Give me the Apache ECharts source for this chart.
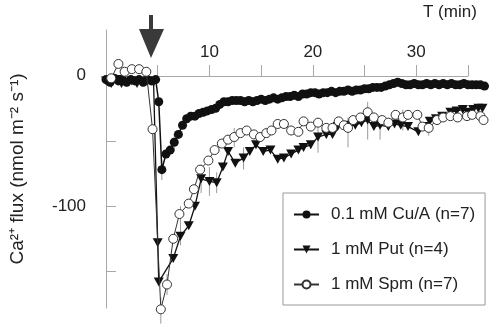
<!DOCTYPE html>
<html>
<head>
<meta charset="utf-8">
<script src="https://cdn.jsdelivr.net/npm/echarts@6/dist/echarts.min.js"></script>
<style>
  html, body { margin: 0; padding: 0; background: #fff; }
  #chart { width: 490px; height: 329px; }
</style>
</head>
<body>
<div id="chart"></div>
<script>
// time (min) and Ca2+ flux (nmol m-2 s-1)
const cuTime = [0, 0.4, 0.8, 1.2, 1.6, 2.0, 2.4, 2.8, 3.2, 3.6, 4.0, 4.4, 4.8, 5.1, 5.4, 5.8, 6.2, 6.6, 7.0, 7.4, 7.8, 8.2, 8.6, 9.0, 9.4, 9.8, 10.2, 10.6, 11.0, 11.4, 11.8, 12.2, 12.6, 13.0, 13.4, 13.8, 14.2, 14.6, 15.0, 15.4, 15.8, 16.2, 16.6, 17.0, 17.4, 17.8, 18.2, 18.6, 19.0, 19.4, 19.8, 20.2, 20.6, 21.0, 21.4, 21.8, 22.2, 22.6, 23.0, 23.4, 23.8, 24.2, 24.6, 25.0, 25.4, 25.8, 26.2, 26.6, 27.0, 27.4, 27.8, 28.2, 28.6, 29.0, 29.4, 29.8, 30.2, 30.6, 31.0, 31.4, 31.8, 32.2, 32.6, 33.0, 33.4, 33.8, 34.2, 34.6, 35.0, 35.4, 35.8, 36.2, 36.6]
const cuFlux = [-3, -5, -2, -4, -3, -5, -3, -4, -3, -5, -3, -4, -3, -20, -72, -60, -57, -51, -45, -38, -33, -31, -31, -29, -28, -27, -26, -25, -22, -20, -20, -19, -19, -19, -20, -19, -20, -19, -18, -19, -18, -17, -18, -17, -16, -16, -15, -16, -14, -14, -13, -13, -14, -13, -13, -12, -13, -12, -12, -11, -12, -11, -11, -10, -10, -9, -9, -9, -8, -7, -6, -5, -6, -7, -7, -6, -7, -7, -6, -7, -6, -7, -6, -7, -6, -7, -7, -6, -7, -7, -7, -7, -8]

const putTime = [0, 0.5, 1.0, 1.5, 2.0, 2.5, 3.0, 3.5, 4.0, 4.6, 5.0, 5.1, 6.5, 7.2, 8.0, 8.6, 9.2, 10.0, 10.7, 11.3, 11.8, 12.5, 13.3, 13.9, 14.5, 15.2, 15.9, 16.6, 17.2, 17.9, 18.6, 19.1, 19.8, 20.5, 21.3, 21.9, 22.4, 23.4, 24.1, 24.7, 25.3, 25.9, 26.5, 27.3, 27.9, 28.5, 29.2, 30.2, 30.8, 31.3, 31.9, 32.5, 33.3, 33.9, 34.5, 35.0, 35.5, 36.0, 36.4]
const putFlux = [-4, -6, -3, -6, -5, -4, -6, -5, -4, -5, -128, -158, -140, -123, -115, -100, -79, -81, -82, -70, -58, -67, -63, -58, -53, -58, -57, -64, -63, -60, -57, -55, -53, -47, -45, -45, -39, -38, -38, -36, -34, -39, -38, -39, -37, -38, -39, -43, -39, -35, -33, -31, -28, -27, -26, -28, -26, -25, -25]

const spmTime = [0.5, 1.2, 1.8, 2.5, 3.2, 3.9, 4.5, 5.3, 5.9, 6.5, 7.1, 8.0, 8.5, 9.1, 9.9, 10.5, 11.2, 11.8, 12.4, 13.0, 13.6, 14.3, 14.9, 15.5, 16.0, 16.6, 17.2, 17.9, 18.6, 19.1, 19.8, 20.5, 21.3, 21.9, 22.5, 23.0, 23.4, 23.9, 24.6, 25.3, 25.9, 26.7, 27.3, 28.0, 28.7, 29.2, 30.1, 30.6, 31.2, 32.0, 32.6, 33.3, 34.0, 34.9, 35.4, 36.2, 36.5]
const spmFlux = [-2, 9, 3, 5, 5, 3, -41, -179, -160, -125, -106, -98, -87, -72, -65, -57, -52, -49, -47, -44, -42, -45, -47, -44, -42, -37, -37, -42, -43, -35, -39, -36, -40, -40, -35, -38, -40, -34, -32, -28, -32, -34, -36, -30, -32, -30, -30, -39, -40, -34, -32, -31, -32, -31, -30, -31, -34]

// error bars: time, low, high
const errTime = [5.3, 5.9, 5.4, 6.6, 7.2, 9.2, 10.0, 10.7, 12.4, 13.3, 20.5, 23.4, 25.3, 26.5, 28.7, 31.2]
const errLow = [-190, -168, -80, -58, -130, -90, -92, -90, -55, -72, -59, -55, -49, -49, -42, -46]
const errHigh = [-170, -152, -65, -44, -100, -68, -70, -74, -40, -55, -34, -32, -20, -39, -26, -33]

const xTicks = [5, 10, 15, 20, 25, 30, 35]
const xLabels = [10, 20, 30]
const yTicks = [-50, -100, -150]
const yLabels = [0, -100]

const zip = (a, b) => a.map((v, i) => [v, b[i]])
const font = 'Liberation Sans, Arial, sans-serif'
const axisGray = '#a8a8a8'
const downTri = 'path://M0,0 L10,0 L5,9 Z'

const chart = echarts.init(document.getElementById('chart'))

chart.setOption({
  animation: false,
  backgroundColor: '#fff',
  textStyle: { fontFamily: font },
  grid: { left: 104, right: 22, top: 30, bottom: 21 },
  legend: {
    data: ['0.1 mM Cu/A (n=7)', '1 mM Put (n=4)', '1 mM Spm (n=7)'],
    orient: 'vertical',
    left: 283,
    top: 193,
    padding: [13, 10, 12, 10],
    borderColor: '#999',
    borderWidth: 1,
    itemWidth: 25,
    itemHeight: 10,
    itemGap: 18,
    textStyle: { fontSize: 17, color: '#222', fontFamily: font, padding: [0, 0, 0, 7] }
  },
  xAxis: {
    type: 'value',
    position: 'top',
    // the time axis sits on flux = 0 (46 px below the grid top)
    offset: -46,
    min: 0,
    max: 35,
    axisLine: { onZero: false, lineStyle: { color: axisGray, width: 1 } },
    axisTick: { show: true, length: 11, customValues: xTicks, lineStyle: { color: axisGray } },
    axisLabel: { customValues: xLabels, fontSize: 17, color: '#222', margin: 15 },
    splitLine: { show: false }
  },
  yAxis: {
    type: 'value',
    min: -178,
    max: 35,
    name: 'Ca²⁺ flux (nmol m⁻² s⁻¹)',
    nameLocation: 'middle',
    nameRotate: 90,
    nameGap: 79,
    nameTextStyle: { fontSize: 19, color: '#222' },
    axisLine: { show: true, lineStyle: { color: axisGray, width: 1 } },
    axisTick: { show: true, inside: true, length: 10, customValues: yTicks, lineStyle: { color: axisGray } },
    axisLabel: { customValues: yLabels, fontSize: 17, color: '#222', margin: 20 },
    splitLine: { show: false }
  },
  graphic: [
    {
      type: 'text',
      left: 423,
      top: 4,
      style: { text: 'T (min)', font: '17px ' + font, fill: '#222' }
    },
    {
      type: 'polygon',
      shape: { points: [[149, 15], [153, 15], [153, 29], [164, 29], [151, 58], [139, 29], [149, 29]] },
      style: { fill: '#3a3a3a' }
    }
  ],
  series: [
    {
      type: 'custom',
      name: 'err',
      z: 1,
      clip: false,
      silent: true,
      data: errTime.map((t, i) => [t, errLow[i], errHigh[i]]),
      encode: { x: 0, y: [1, 2] },
      renderItem: function(params, api) {
        const a = api.coord([api.value(0), api.value(1)])
        const b = api.coord([api.value(0), api.value(2)])
        return {
          type: 'line',
          shape: { x1: a[0], y1: a[1], x2: b[0], y2: b[1] },
          style: { stroke: '#9a9a9a', lineWidth: 1 }
        }
      }
    },
    {
      name: '0.1 mM Cu/A (n=7)',
      type: 'line',
      z: 3,
      clip: false,
      data: zip(cuTime, cuFlux),
      symbol: 'circle',
      symbolSize: 9,
      showAllSymbol: true,
      itemStyle: { color: '#111' },
      lineStyle: { color: '#111', width: 1.5 }
    },
    {
      name: '1 mM Put (n=4)',
      type: 'line',
      z: 2,
      clip: false,
      data: zip(putTime, putFlux),
      symbol: downTri,
      symbolSize: [10, 9],
      showAllSymbol: true,
      itemStyle: { color: '#111' },
      lineStyle: { color: '#111', width: 1.3 }
    },
    {
      name: '1 mM Spm (n=7)',
      type: 'line',
      z: 4,
      clip: false,
      data: zip(spmTime, spmFlux),
      symbol: 'circle',
      symbolSize: 9,
      showAllSymbol: true,
      itemStyle: { color: '#fff', borderColor: '#333', borderWidth: 1 },
      lineStyle: { color: '#333', width: 1 }
    }
  ]
})
</script>
</body>
</html>
